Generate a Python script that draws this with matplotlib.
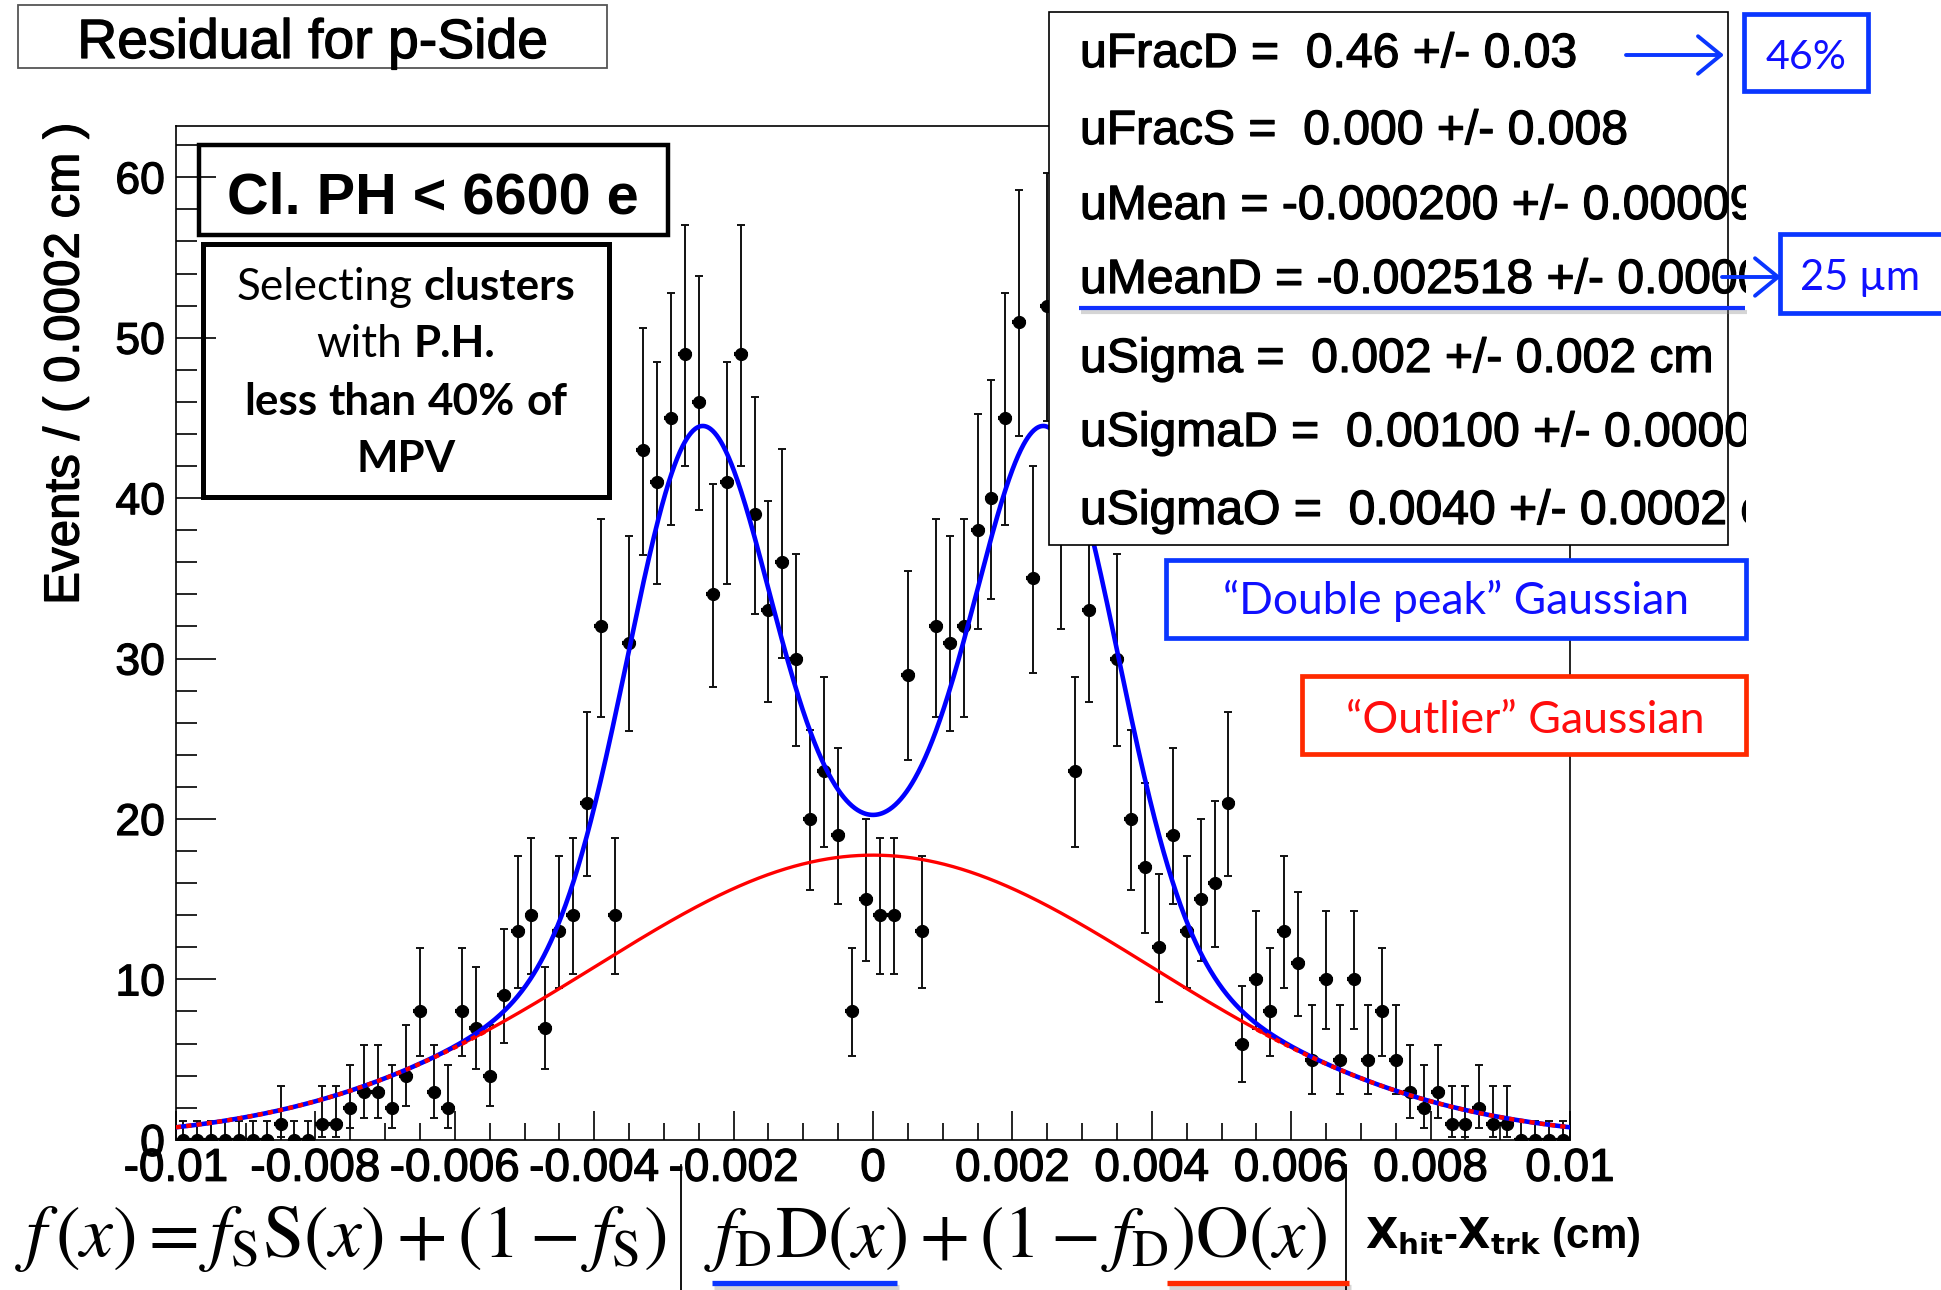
import numpy as np
import matplotlib
matplotlib.use("Agg")
import matplotlib.pyplot as plt
import matplotlib.patheffects as pe
from matplotlib.patches import Rectangle, FancyArrowPatch
from matplotlib.lines import Line2D
from matplotlib.transforms import Bbox
from matplotlib.ticker import FixedLocator, FixedFormatter, MultipleLocator

# ---------------- data ----------------
x_min, x_max = -0.01, 0.01
bin_width = 0.0002
counts = [0, 0, 0, 0, 0, 0, 0, 1, 0, 0,
          1, 1, 2, 3, 3, 2, 4, 8, 3, 2,
          8, 7, 4, 9, 13, 14, 7, 13, 14, 21,
          32, 14, 31, 43, 41, 45, 49, 46, 34, 41,
          49, 39, 33, 36, 30, 20, 23, 19, 8, 15,
          14, 14, 29, 13, 32, 31, 32, 38, 40, 45,
          51, 35, 52, 38, 23, 33, 46, 30, 20, 17,
          12, 19, 13, 15, 16, 21, 6, 10, 8, 13,
          11, 5, 10, 5, 10, 5, 8, 5, 3, 2,
          3, 1, 1, 2, 1, 1, 0, 0, 0, 0]

# fit parameters (from the stats box)
uFracD = 0.46
uFracS = 0.0
uMean = -0.000200
uMeanD = -0.002518
uSigma = 0.002
uSigmaD = 0.00100
uSigmaO = 0.0040
curve_center = 0.0   # D and O components are centred at 0 in the picture

x_ticks = [-0.01, -0.008, -0.006, -0.004, -0.002, 0, 0.002, 0.004, 0.006, 0.008, 0.01]
x_tick_labels = ["-0.01", "-0.008", "-0.006", "-0.004", "-0.002", "0",
                 "0.002", "0.004", "0.006", "0.008", "0.01"]
y_ticks = [0, 10, 20, 30, 40, 50, 60]
y_tick_labels = ["0", "10", "20", "30", "40", "50", "60"]

# lines of the stats box (the box cuts the longer ones off at its right edge)
stats_lines = ["uFracD =  0.46 +/- 0.03",
               "uFracS =  0.000 +/- 0.008",
               "uMean = -0.000200 +/- 0.00009",
               "uMeanD = -0.002518 +/- 0.0000",
               "uSigma =  0.002 +/- 0.002 cm",
               "uSigmaD =  0.00100 +/- 0.0000",
               "uSigmaO =  0.0040 +/- 0.0002 c"]

# ---------------- figure ----------------
W, H = 1941, 1290
plt.rcParams['font.family'] = ['Liberation Sans', 'DejaVu Sans']
fig = plt.figure(figsize=(W / 100, H / 100), dpi=100)
R = fig.canvas.get_renderer()
HEAVY = [pe.withStroke(linewidth=0.9, foreground='black')]


def fx(x):
    return x / W


def fy(y):
    return 1 - y / H


AX_L, AX_R, AX_B, AX_T = 176, 1570, 1139.8, 126
ax = fig.add_axes([fx(AX_L), fy(AX_B), (AX_R - AX_L) / W, (AX_B - AX_T) / H])

n = np.array(counts, dtype=float)
centers = x_min + bin_width * (np.arange(len(counts)) + 0.5)
# RooFit-like Poisson intervals (Gehrels approximation)
err_hi = np.where(n > 0, np.sqrt(n + 0.75) + 1.0, 1.148)
safe = np.where(n > 0, n, 1.0)
err_lo = np.where(n > 0, n - safe * (1 - 1 / (9 * safe) - 1 / (3 * np.sqrt(safe))) ** 3, 0.0)

ax.errorbar(centers, n, xerr=bin_width / 2, fmt='none', ecolor='black',
            elinewidth=3.0, capsize=0, zorder=3)
ax.errorbar(centers, n, yerr=[err_lo, err_hi], fmt='o', ms=8.5, color='black',
            ecolor='#111111', elinewidth=1.4, capsize=3.2, capthick=1.4, zorder=3)

# fit curves
xs = np.linspace(x_min, x_max, 2001)


def gauss(x, m, s):
    return np.exp(-0.5 * ((x - m) / s) ** 2)


def normed(g):
    return g / np.trapezoid(g, xs)


S = normed(gauss(xs, uMean, uSigma))
D = normed(0.5 * (gauss(xs, curve_center + uMeanD, uSigmaD) +
                  gauss(xs, curve_center - uMeanD, uSigmaD)))
O = normed(gauss(xs, curve_center, uSigmaO))
Ntot = n.sum()
total = Ntot * bin_width * (uFracS * S + (1 - uFracS) * (uFracD * D + (1 - uFracD) * O))
outlier = Ntot * bin_width * (1 - uFracS) * (1 - uFracD) * O

ax.plot(xs, outlier, color='#ff0000', lw=2.4, zorder=4)
ax.plot(xs, total, color='#0000ff', lw=3.3, zorder=5)
overlap = np.where(np.abs(total - outlier) < 0.35, outlier, np.nan)
ax.plot(xs, overlap, color='#ff0000', lw=3.1, dashes=(1.2, 1.2), zorder=6)

ax.set_xlim(x_min, x_max)
ax.set_ylim(0, 63.2)
ax.xaxis.set_major_locator(FixedLocator(x_ticks))
ax.xaxis.set_major_formatter(FixedFormatter(x_tick_labels))
ax.xaxis.set_minor_locator(MultipleLocator(0.0005))
ax.yaxis.set_major_locator(FixedLocator(y_ticks))
ax.yaxis.set_major_formatter(FixedFormatter(y_tick_labels))
ax.yaxis.set_minor_locator(MultipleLocator(2))
ax.tick_params(which='both', direction='in', top=False, right=False, width=1.2, color='black')
ax.tick_params(axis='y', which='major', length=29, labelsize=32, pad=8)
ax.tick_params(axis='y', which='minor', length=15)
ax.tick_params(axis='x', which='major', length=21, labelsize=33, pad=5)
ax.tick_params(axis='x', which='minor', length=12)
for lab in ax.get_xticklabels() + ax.get_yticklabels():
    lab.set_path_effects(HEAVY)
for sp in ax.spines.values():
    sp.set_linewidth(1.2)


# ---------------- helpers ----------------
def place(s, x, y, width=None, size=20, ha='center', va='baseline', zorder=9, **kw):
    t = fig.text(fx(x), fy(y), s, fontsize=size, ha=ha, va=va, zorder=zorder, **kw)
    if width is not None:
        w = t.get_window_extent(R).width
        t.set_fontsize(size * width / w)
    return t


def box(x0, y0, x1, y1, ec, lw, fc='none', z=5):
    r = Rectangle((fx(x0), fy(y1)), (x1 - x0) / W, (y1 - y0) / H, transform=fig.transFigure,
                  facecolor=fc, edgecolor=ec, lw=lw, zorder=z)
    fig.add_artist(r)
    return r


def hline(x0, x1, y, color, lw, z=8, shadow=False):
    if shadow:
        fig.add_artist(Line2D([fx(x0 + 2), fx(x1 + 2)], [fy(y + 4), fy(y + 4)], transform=fig.transFigure,
                              color='#888888', lw=lw, alpha=0.35, zorder=z - 0.1,
                              solid_capstyle='butt'))
    fig.add_artist(Line2D([fx(x0), fx(x1)], [fy(y), fy(y)], transform=fig.transFigure,
                          color=color, lw=lw, zorder=z, solid_capstyle='butt'))


def vline(x, y0, y1, color='black', lw=1.2, z=8):
    fig.add_artist(Line2D([fx(x), fx(x)], [fy(y0), fy(y1)], transform=fig.transFigure,
                          color=color, lw=lw, zorder=z))


def arrow(x0, x1, y, color):
    a = FancyArrowPatch((fx(x0), fy(y)), (fx(x1), fy(y)), transform=fig.transFigure,
                        arrowstyle='->,head_length=0.55,head_width=0.45', mutation_scale=30,
                        color=color, lw=2.8, zorder=9, shrinkA=0, shrinkB=0)
    fig.add_artist(a)


def segments_line(words, cx, y, size, family):
    probe1 = fig.text(0, 0, 'n n', fontsize=size, family=family)
    probe2 = fig.text(0, 0, 'nn', fontsize=size, family=family)
    sw = probe1.get_window_extent(R).width - probe2.get_window_extent(R).width
    probe1.remove()
    probe2.remove()
    texts, widths = [], []
    for s, wt in words:
        t = fig.text(0, 0, s, fontsize=size, fontweight=wt, family=family,
                     ha='left', va='baseline', zorder=9)
        texts.append(t)
        widths.append(t.get_window_extent(R).width)
    total = sum(widths) + sw * (len(words) - 1)
    x = cx - total / 2
    for t, w in zip(texts, widths):
        t.set_position((fx(x), fy(y)))
        x += w + sw
    return texts, total


# ---------------- ROOT texts ----------------
box(18, 5, 607, 68, '#555555', 1.3, fc='white')
place("Residual for p-Side", 313, 58, width=470, size=30, path_effects=HEAVY)

place("Events / ( 0.0002 cm )", 66, 124, size=35.5, ha='center', va='top',
      rotation=90, path_effects=HEAVY)

# x-axis title
place(r"$\mathbf{X_{hit}}$-$\mathbf{X_{trk}}$ (cm)", 1365, 1248, width=275, size=30,
      ha='left', fontweight='bold')

# Cl. PH box
box(199, 145, 668, 235, 'black', 3.2)
place("Cl. PH < 6600 e", 433, 214, width=411, size=30, fontweight='bold')

# Selecting box
box(203, 244, 609, 497, 'black', 3.6)
sel_family = 'Lato'
base_size = 30
probe_texts, w0 = segments_line([("Selecting", 'normal'), ("clusters", 'bold')], -5000, 300,
                                base_size, sel_family)
for t in probe_texts:
    t.remove()
sel_size = base_size * 338 / w0
segments_line([("Selecting", 'normal'), ("clusters", 'bold')], 406, 300, sel_size, sel_family)
segments_line([("with", 'normal'), ("P.H.", 'bold')], 406, 357, sel_size, sel_family)
segments_line([("less", 'bold'), ("than", 'bold'), ("40%", 'bold'), ("of", 'bold')], 406, 415,
              sel_size, sel_family)
segments_line([("MPV", 'bold')], 406, 472, sel_size, sel_family)

# ---------------- stats box ----------------
box(1049, 12, 1728, 545, 'black', 1.2, fc='white', z=5)
clip = Bbox([[1049, H - 545], [1746, H - 12]])
t0 = place(stats_lines[0], 1080, 67, width=497, size=30, ha='left')
stat_size = t0.get_fontsize()
t0.remove()
stat_baselines = [67, 144, 219, 293, 372, 446, 524]
for s, yb in zip(stats_lines, stat_baselines):
    t = place(s, 1080, yb, size=stat_size, ha='left', zorder=7, path_effects=HEAVY)
    t.set_clip_box(clip)
    t.set_clip_on(True)
hline(1079, 1745, 308, '#1030ff', 3.0, shadow=True)

# ---------------- annotations ----------------
BLUE_BOX = '#0a36ff'
BLUE_TXT = '#1010ff'
RED_BOX = '#ff2a00'
RED_TXT = '#ff0d0d'

arrow(1626, 1724, 55, BLUE_BOX)
box(1744, 14, 1868, 91, BLUE_BOX, 3.4, fc='white', z=6)
place("46%", 1806, 69, width=81, size=30, family='Lato', color=BLUE_TXT)

arrow(1722, 1781, 277, BLUE_BOX)
box(1780, 234, 1945, 313, BLUE_BOX, 3.4, fc='white', z=6)
place("25 \u00b5m", 1860, 290, width=120, size=30, family='Lato', color=BLUE_TXT)

box(1166, 560, 1746, 638, BLUE_BOX, 3.4, fc='white', z=6)
place("\u201cDouble peak\u201d Gaussian", 1456, 614, width=466, size=30, family='Lato',
      color=BLUE_TXT)

box(1302, 676, 1746, 754, RED_BOX, 3.4, fc='white', z=6)
place("\u201cOutlier\u201d Gaussian", 1525, 733, width=359, size=30, family='Lato',
      color=RED_TXT)

# ---------------- formula ----------------
place(r"$f\,(x) = f_{\mathrm{S}}\mathrm{S}(x) + (1 - f_{\mathrm{S}})$", 15, 1257, width=652,
      size=40, ha='left', math_fontfamily='stix')
place(r"$f_{\mathrm{D}}\mathrm{D}(x) + (1 - f_{\mathrm{D}})\mathrm{O}(x)$", 704, 1257, width=624,
      size=40, ha='left', math_fontfamily='stix')
vline(681, 1165, 1290, lw=1.3)
vline(1346, 1165, 1290, lw=1.3)
hline(712, 897, 1283, '#0a36ff', 3.8, shadow=True)
hline(1167, 1349, 1283, '#ff2a00', 3.8, shadow=True)

fig.savefig("out.png", dpi=100)
